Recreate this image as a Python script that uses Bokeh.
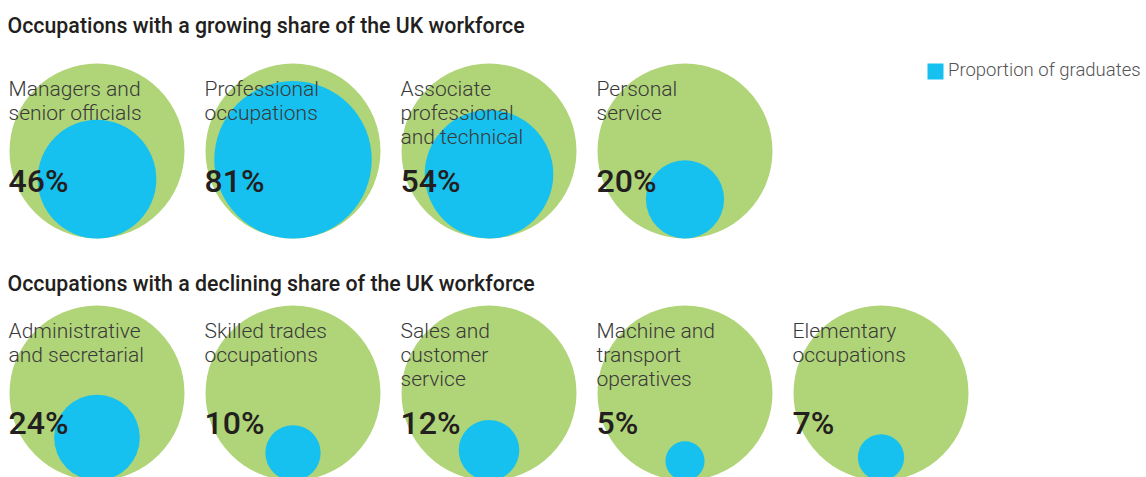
import math
from bokeh.plotting import figure
from bokeh.models import Range1d
from bokeh.core.properties import value
from bokeh.embed import file_html
from bokeh.resources import INLINE

# ---- data ----
growing_labels = ["Managers and\nsenior officials", "Professional\noccupations",
                  "Associate\nprofessional\nand technical", "Personal\nservice"]
growing_pct = [46, 81, 54, 20]
declining_labels = ["Administrative\nand secretarial", "Skilled trades\noccupations",
                    "Sales and\ncustomer\nservice", "Machine and\ntransport\noperatives",
                    "Elementary\noccupations"]
declining_pct = [24, 10, 12, 5, 7]
section_titles = ["Occupations with a growing share of the UK workforce",
                  "Occupations with a declining share of the UK workforce"]
legend_label = "Proportion of graduates"

GREEN = "#b0d478"
BLUE = "#16c1f0"
DARK = "#231f20"
GREY = "#3a3a3a"

W, H = 1146, 477
p = figure(width=W, height=H, x_range=Range1d(0, W), y_range=Range1d(H, 0),
           output_backend="svg", toolbar_location=None, min_border=0,
           x_axis_type=None, y_axis_type=None, outline_line_color=None)
p.grid.visible = False
p.background_fill_color = "white"

R = 87.5
STEP = 196
X0 = 96.5
rows = [(growing_labels, growing_pct, 150.5), (declining_labels, declining_pct, 392.5)]

# empirical shift of rendered text relative to anchor (fraction of font size)
K = 0.38

gx, gy, bx, by, br = [], [], [], [], []
lx, ly, lt = [], [], []
px, py, pt = [], [], []
LFS, PFS, TFS, GFS = 21, 32, 21.3, 18.5
for labels, pcts, cy in rows:
    for i, (lab, pc) in enumerate(zip(labels, pcts)):
        cx = X0 + STEP * i
        gx.append(cx); gy.append(cy)
        r = R * math.sqrt(pc / 100.0)
        bx.append(cx); by.append(cy + R - r); br.append(r)
        for j, line in enumerate(lab.split("\n")):
            lx.append(cx - R - 1); ly.append(cy - 54.5 + 24 * j - K * LFS); lt.append(line)
        px.append(cx - R - 1); py.append(cy + 42 - K * PFS); pt.append(f"{pc}%")

p.circle(x=gx, y=gy, radius=R, fill_color=GREEN, line_color=None)
p.circle(x=bx, y=by, radius=br, fill_color=BLUE, line_color=None)

p.text(x=lx, y=ly, text=lt, text_font=value("Roboto Light"), text_font_size=f"{LFS}px",
       text_color=GREY, text_baseline="alphabetic", text_align="left")
p.text(x=px, y=py, text=pt, text_font=value("Roboto Medium"),
       text_font_size=f"{PFS}px", text_color=DARK, text_baseline="alphabetic", text_align="left")

p.text(x=[7, 7], y=[33 - K * TFS, 291 - K * TFS], text=section_titles,
       text_font=value("Roboto Medium"), text_font_size=f"{TFS}px", text_color=DARK,
       text_baseline="alphabetic", text_align="left")

# legend
p.rect(x=[935], y=[71], width=16, height=16, fill_color=BLUE, line_color=None)
p.text(x=[947.5], y=[77 - K * GFS], text=[legend_label], text_font=value("Roboto Light"),
       text_font_size=f"{GFS}px", text_color="#555555", text_baseline="alphabetic",
       text_align="left")

open("out.html", "w").write(file_html(p, INLINE))
